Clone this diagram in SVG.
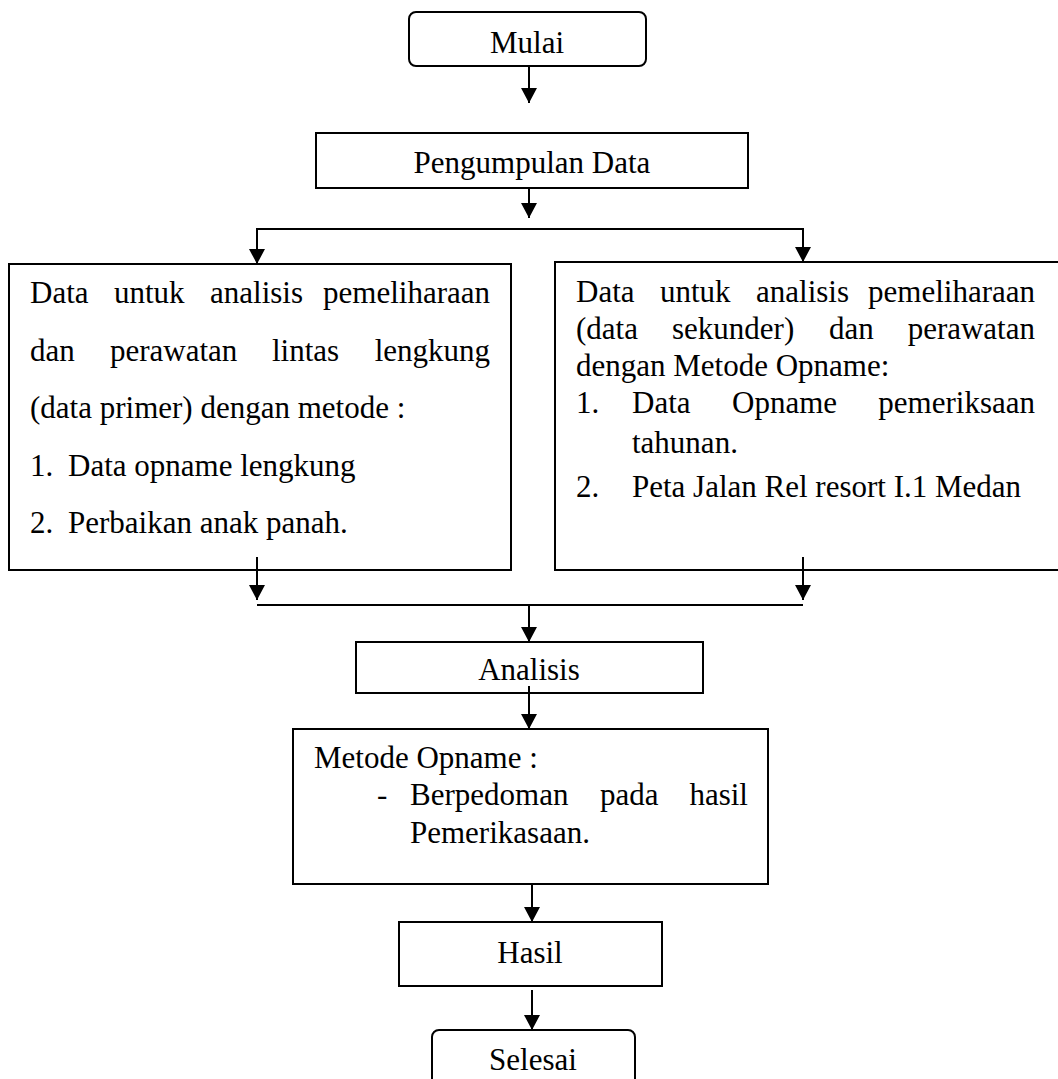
<svg xmlns="http://www.w3.org/2000/svg" width="1058" height="1079" viewBox="0 0 1058 1079">
<style>
  .box{fill:#fff;stroke:#000;stroke-width:2}
  .t{font-family:"Liberation Serif","Times New Roman",serif;font-size:31px;fill:#000}
  .c{text-anchor:middle}
  .ln{fill:none;stroke:#000;stroke-width:2}
</style>
<defs>
  <marker id="ah" markerWidth="15" markerHeight="16" refX="15" refY="8" orient="auto" markerUnits="userSpaceOnUse" viewBox="0 0 15 16">
    <path d="M0,0 L15,8 L0,16 z" fill="#000"/>
  </marker>
</defs>
<rect width="1058" height="1079" fill="#fff"/>

<g id="mulai">
  <rect class="box" x="409" y="12" width="237" height="54" rx="7"/>
  <text class="t c" x="527" y="53">Mulai</text>
</g>

<g id="pengumpulan">
  <rect class="box" x="316" y="133" width="432" height="55"/>
  <text class="t c" x="532" y="173">Pengumpulan Data</text>
</g>

<g id="data-primer">
  <rect class="box" x="9" y="264" width="502" height="306"/>
  <text class="t" y="303"><tspan x="30">Data</tspan><tspan x="114">untuk</tspan><tspan x="210">analisis</tspan><tspan x="490" text-anchor="end">pemeliharaan</tspan></text>
  <text class="t" y="361"><tspan x="30">dan</tspan><tspan x="110">perawatan</tspan><tspan x="272">lintas</tspan><tspan x="490" text-anchor="end">lengkung</tspan></text>
  <text class="t" x="30" y="418">(data primer) dengan metode :</text>
  <text class="t" y="476"><tspan x="30">1.</tspan><tspan x="68">Data opname lengkung</tspan></text>
  <text class="t" y="533"><tspan x="30">2.</tspan><tspan x="68">Perbaikan anak panah.</tspan></text>
</g>

<g id="data-sekunder">
  <rect class="box" x="555" y="262" width="510" height="308"/>
  <text class="t" y="302"><tspan x="576">Data</tspan><tspan x="660">untuk</tspan><tspan x="756">analisis</tspan><tspan x="1035" text-anchor="end">pemeliharaan</tspan></text>
  <text class="t" y="339"><tspan x="576">(data</tspan><tspan x="672">sekunder)</tspan><tspan x="829">dan</tspan><tspan x="1035" text-anchor="end">perawatan</tspan></text>
  <text class="t" x="576" y="376">dengan Metode Opname:</text>
  <text class="t" y="413"><tspan x="576">1.</tspan><tspan x="632">Data</tspan><tspan x="732">Opname</tspan><tspan x="1035" text-anchor="end">pemeriksaan</tspan></text>
  <text class="t" x="632" y="453">tahunan.</text>
  <text class="t" y="497"><tspan x="576">2.</tspan><tspan x="632">Peta Jalan Rel resort I.1 Medan</tspan></text>
</g>

<g id="analisis">
  <rect class="box" x="356" y="642" width="347" height="51"/>
  <text class="t c" x="529" y="680">Analisis</text>
</g>

<g id="metode">
  <rect class="box" x="293" y="729" width="475" height="155"/>
  <text class="t" x="314" y="768">Metode Opname :</text>
  <text class="t" y="805"><tspan x="377">-</tspan><tspan x="410">Berpedoman</tspan><tspan x="600">pada</tspan><tspan x="748" text-anchor="end">hasil</tspan></text>
  <text class="t" x="410" y="843">Pemerikasaan.</text>
</g>

<g id="hasil">
  <rect class="box" x="399" y="922" width="263" height="64"/>
  <text class="t c" x="530" y="963">Hasil</text>
</g>

<g id="selesai">
  <rect class="box" x="432" y="1030" width="203" height="70" rx="7"/>
  <text class="t c" x="533" y="1070">Selesai</text>
</g>

<g id="connectors">
  <path class="ln" d="M529,66 V103" marker-end="url(#ah)"/>
  <path class="ln" d="M529,188 V218" marker-end="url(#ah)"/>
  <path class="ln" d="M530,229 H257 V264" marker-end="url(#ah)"/>
  <path class="ln" d="M530,229 H803 V262" marker-end="url(#ah)"/>
  <path class="ln" d="M257,557 V600" marker-end="url(#ah)"/>
  <path class="ln" d="M803,557 V600" marker-end="url(#ah)"/>
  <path class="ln" d="M257,605 H803"/>
  <path class="ln" d="M529,605 V642" marker-end="url(#ah)"/>
  <path class="ln" d="M529,686 V729" marker-end="url(#ah)"/>
  <path class="ln" d="M532,884 V922" marker-end="url(#ah)"/>
  <path class="ln" d="M532,990 V1030" marker-end="url(#ah)"/>
</g>
</svg>
